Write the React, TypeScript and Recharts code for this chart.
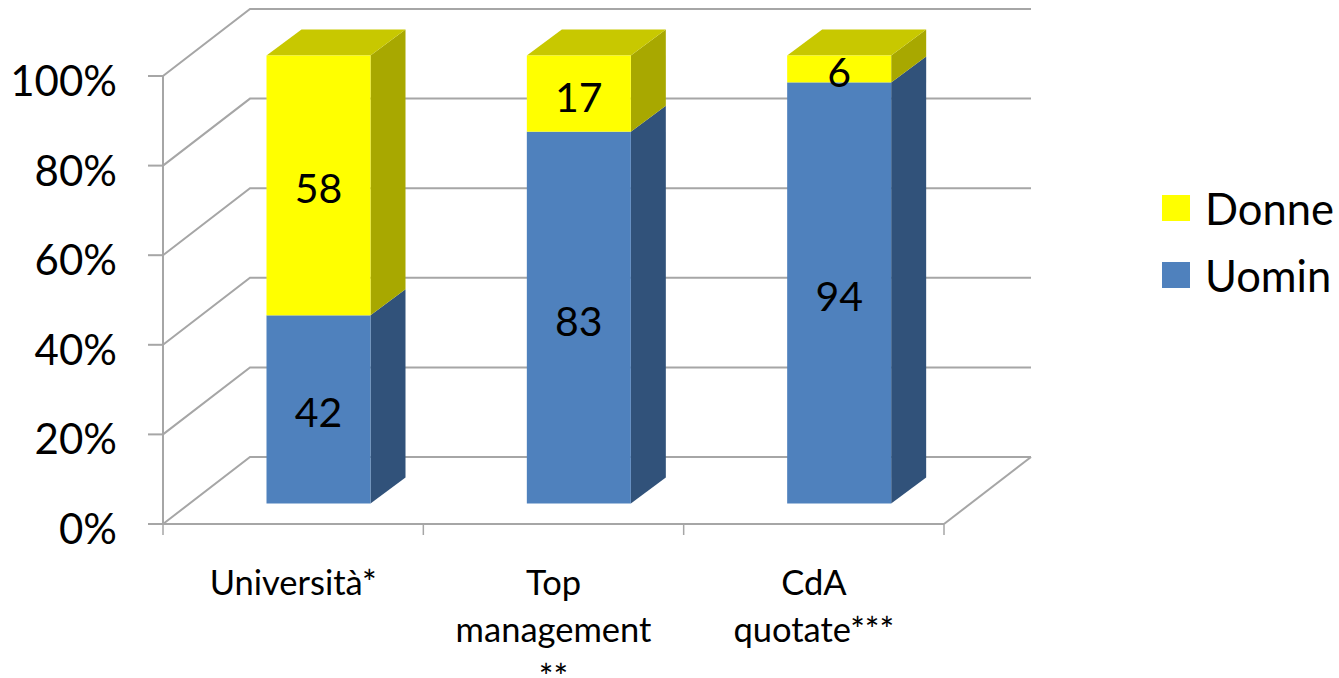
import { BarChart, Bar, CartesianGrid, LabelList, Legend, XAxis, YAxis } from "recharts";

const categories = ["Università*", "Top management **", "CdA quotate***"];
const categoryLines = [["Università*"], ["Top", "management", "**"], ["CdA", "quotate***"]];
const uomini = [42, 83, 94];
const donne = [58, 17, 6];
const yTicks = [0, 20, 40, 60, 80, 100];

const data = categories.map((name, i) => ({ name, Uomin: uomini[i], Donne: donne[i] }));

const FONT = "Lato, Carlito, sans-serif";
const GRID = "#A6A6A6";
// the fake 3d offsets
const WALL_DX = 87;
const WALL_DY = -67;
const BAR_DX = 25.5;
const BAR_DY = -20.5;
const DEPTH_X = 35;
const DEPTH_Y = -26;

function Bar3D(props: any) {
  const { x, y, width, height, fill, sideFill, topFill } = props;
  const l = x + BAR_DX;
  const r = l + width;
  const t = y + BAR_DY;
  const b = t + height;
  return (
    <g>
      <polygon
        points={`${r},${t} ${r + DEPTH_X},${t + DEPTH_Y} ${r + DEPTH_X},${b + DEPTH_Y} ${r},${b}`}
        fill={sideFill}
      />
      {topFill && (
        <polygon
          points={`${l},${t} ${l + DEPTH_X},${t + DEPTH_Y} ${r + DEPTH_X},${t + DEPTH_Y} ${r},${t}`}
          fill={topFill}
        />
      )}
      <rect x={l} y={t} width={width} height={height} fill={fill} />
    </g>
  );
}

function GridLine(props: any) {
  const { x1, x2, y1, index, offset } = props;
  const isFloor = Math.abs(y1 - (offset ? offset.top + offset.height : 524)) < 1;
  return (
    <g key={`grid-${index}`} fill="none" stroke={GRID} strokeWidth={2}>
      <polyline points={`${x1},${y1} ${x1 + WALL_DX},${y1 + WALL_DY} ${x2 + WALL_DX},${y1 + WALL_DY}`} />
      {isFloor && <line x1={x2} y1={y1} x2={x2 + WALL_DX} y2={y1 + WALL_DY} />}
    </g>
  );
}

function CategoryTick(props: any) {
  const { x, y, payload, width, index } = props;
  const band = width / categories.length;
  const i0 = payload.index ?? index;
  const lines = categoryLines[i0] ?? [payload.value];
  return (
    <g>
      <line x1={x - band / 2} y1={y - 8} x2={x - band / 2} y2={y + 3} stroke={GRID} strokeWidth={1.5} />
      {i0 === categories.length - 1 && (
        <line x1={x + band / 2} y1={y - 8} x2={x + band / 2} y2={y + 3} stroke={GRID} strokeWidth={1.5} />
      )}
      {lines.map((line: string, i: number) => (
        <text key={line} x={x} y={y + 63 + i * 47} textAnchor="middle" fontSize={34.5} fontFamily={FONT} fill="#000">
          {line}
        </text>
      ))}
    </g>
  );
}

function ValueLabel(props: any) {
  const { x, y, width, height, value } = props;
  return (
    <text
      x={x + BAR_DX + width / 2}
      y={y + BAR_DY + height / 2 + 18}
      textAnchor="middle"
      fontSize={41}
      fontFamily={FONT}
      fill="#000"
    >
      {value}
    </text>
  );
}

function LegendBox(props: any) {
  const items = props.payload ?? [];
  return (
    <div style={{ fontFamily: FONT, fontSize: 43.5, color: "#000" }}>
      {items.map((item: any) => (
        <div key={item.value} style={{ display: "flex", alignItems: "center", height: 67 }}>
          <span style={{ width: 28, height: 26, background: item.color, marginRight: 15 }} />
          <span>{item.value}</span>
        </div>
      ))}
    </div>
  );
}

export default function App() {
  return (
    <div style={{ position: "absolute", left: 0, top: 0, width: 1339, height: 678, overflow: "hidden" }}>
      <BarChart
        width={1339}
        height={678}
        data={data}
        barSize={104}
        margin={{ top: 76, right: 218, bottom: 0, left: 0 }}
      >
        <CartesianGrid vertical={false} horizontal={GridLine} />
        <XAxis
          dataKey="name"
          height={154}
          stroke={GRID}
          strokeWidth={2}
          tickLine={false}
          interval={0}
          tick={CategoryTick}
        />
        <YAxis
          width={163}
          domain={[0, 100]}
          ticks={yTicks}
          tickFormatter={(v: number) => `${v}%`}
          stroke={GRID}
          strokeWidth={2}
          tickSize={15}
          tickMargin={31}
          tick={{ fontSize: 42, fontFamily: FONT, fill: "#000", dy: 5, stroke: "none" }}
        />
        <Legend
          layout="vertical"
          align="right"
          verticalAlign="top"
          width={177}
          content={LegendBox}
          wrapperStyle={{ left: 1162, right: "auto", top: 174 }}
        />
        <Bar
          dataKey="Uomin"
          stackId="a"
          fill="#4F81BD"
          isAnimationActive={false}
          shape={(p: any) => <Bar3D {...p} sideFill="#31527A" />}
        >
          <LabelList dataKey="Uomin" content={ValueLabel} />
        </Bar>
        <Bar
          dataKey="Donne"
          stackId="a"
          fill="#FFFF00"
          isAnimationActive={false}
          shape={(p: any) => <Bar3D {...p} sideFill="#A8A800" topFill="#C8C800" />}
        >
          <LabelList dataKey="Donne" content={ValueLabel} />
        </Bar>
      </BarChart>
    </div>
  );
}
